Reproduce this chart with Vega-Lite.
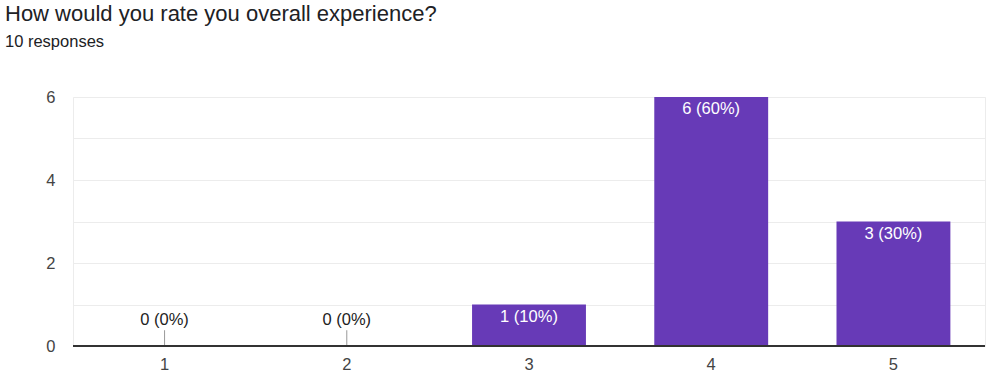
{
  "$schema": "https://vega.github.io/schema/vega-lite/v6.json",
  "autosize": "none",
  "width": 912,
  "height": 249,
  "padding": {"left": 73, "top": 97, "right": 13, "bottom": 32},
  "title": {
    "text": "How would you rate you overall experience?",
    "subtitle": "10 responses",
    "anchor": "start",
    "frame": "group",
    "font": "Liberation Sans",
    "fontSize": 22,
    "fontWeight": "normal",
    "color": "#202124",
    "subtitleFont": "Liberation Sans",
    "subtitleFontSize": 16.5,
    "subtitleColor": "#202124",
    "subtitlePadding": 8,
    "dx": -68,
    "offset": 38
  },
  "config": {
    "view": {"stroke": "#ececec"},
    "font": "Liberation Sans"
  },
  "data": {
    "values": [
      {"rating": "1", "count": 0, "label": "0 (0%)"},
      {"rating": "2", "count": 0, "label": "0 (0%)"},
      {"rating": "3", "count": 1, "label": "1 (10%)"},
      {"rating": "4", "count": 6, "label": "6 (60%)"},
      {"rating": "5", "count": 3, "label": "3 (30%)"}
    ]
  },
  "encoding": {
    "x": {
      "field": "rating",
      "type": "nominal",
      "scale": {"paddingInner": 0.375, "paddingOuter": 0.19},
      "axis": {
        "title": null,
        "labelAngle": 0,
        "labelFontSize": 16.5,
        "labelColor": "#444444",
        "labelPadding": 10,
        "ticks": false,
        "domain": false
      }
    }
  },
  "layer": [
    {
      "mark": {"type": "bar", "color": "#673ab7"},
      "encoding": {
        "y": {
          "field": "count",
          "type": "quantitative",
          "scale": {"domain": [0, 6], "nice": false},
          "axis": {
            "title": null,
            "values": [0, 1, 2, 3, 4, 5, 6],
            "labelExpr": "datum.value % 2 == 0 ? datum.label : ''",
            "labelFontSize": 16.5,
            "labelColor": "#444444",
            "labelPadding": 18,
            "ticks": false,
            "domain": false,
            "gridColor": "#ececec",
            "gridWidth": 1
          }
        }
      }
    },
    {
      "transform": [{"filter": "datum.count == 0"}],
      "mark": {"type": "rule", "color": "#999999", "strokeWidth": 1},
      "encoding": {
        "y": {"datum": 0, "type": "quantitative"},
        "y2": {"datum": 0.38}
      }
    },
    {
      "mark": {"type": "rule", "color": "#333333", "strokeWidth": 1.5},
      "encoding": {
        "y": {"datum": 0, "type": "quantitative"},
        "x": {"value": 0},
        "x2": {"value": 912}
      }
    },
    {
      "transform": [{"filter": "datum.count > 0"}],
      "mark": {"type": "text", "color": "#ffffff", "baseline": "top", "dy": 4, "fontSize": 16.5},
      "encoding": {
        "y": {"field": "count", "type": "quantitative"},
        "text": {"field": "label"}
      }
    },
    {
      "transform": [{"filter": "datum.count == 0"}],
      "mark": {"type": "text", "color": "#222222", "baseline": "bottom", "dy": -18, "fontSize": 16.5},
      "encoding": {
        "y": {"field": "count", "type": "quantitative"},
        "text": {"field": "label"}
      }
    }
  ]
}
